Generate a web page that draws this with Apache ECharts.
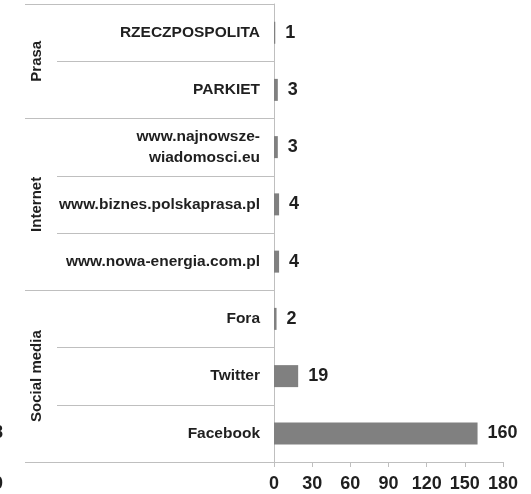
<!DOCTYPE html>
<html>
<head>
<meta charset="utf-8">
<script src="https://cdn.jsdelivr.net/npm/echarts@6/dist/echarts.min.js"></script>
<style>
  html, body { margin: 0; padding: 0; background: #fff; }
  #chart { width: 531px; height: 494px; }
</style>
</head>
<body>
<div id="chart"></div>
<script>
// kategorie (od góry) i liczba publikacji
var categories = ['RZECZPOSPOLITA', 'PARKIET', 'www.najnowsze-\nwiadomosci.eu', 'www.biznes.polskaprasa.pl',
                  'www.nowa-energia.com.pl', 'Fora', 'Twitter', 'Facebook'];
var values = [1, 3, 3, 4, 4, 2, 19, 160];
// grupy: nazwa, pozycja srodka (w wierszach), granice
var groupNames = ['Prasa', 'Internet', 'Social media'];
var groupCenters = [1, 3.5, 6.5];
var groupBounds = [0, 2, 5, 8];
var xTicks = [0, 30, 60, 90, 120, 150, 180];

var textColor = '#1f1f1f';
var lineColor = '#bfbfbf';

var chart = echarts.init(document.getElementById('chart'));
var option = {
    animation: false,
    grid: { left: 274, right: 28, top: 4, bottom: 32, containLabel: false },
    xAxis: {
        type: 'value',
        min: xTicks[0],
        max: xTicks[xTicks.length - 1],
        interval: 30,
        axisLine: { show: true, onZero: false, lineStyle: { color: lineColor } },
        axisTick: { show: true, length: 5, lineStyle: { color: lineColor } },
        splitLine: { show: false },
        axisLabel: { color: textColor, fontSize: 18, fontWeight: 'bold', fontFamily: 'Liberation Sans', margin: 13 }
    },
    yAxis: [{
        type: 'category',
        inverse: true,
        data: categories,
        axisLine: { show: true, lineStyle: { color: lineColor } },
        axisTick: { show: true, interval: 0, length: 217, lineStyle: { color: lineColor } },
        axisLabel: {
            interval: 0, margin: 14, color: textColor, fontSize: 15.5, fontWeight: 'bold',
            fontFamily: 'Liberation Sans', lineHeight: 21, align: 'right'
        }
    }, {
        // os grup (Prasa / Internet / Social media)
        type: 'value',
        min: 0,
        max: 8,
        inverse: true,
        position: 'left',
        axisLine: { show: false, onZero: false },
        splitLine: { show: false },
        axisTick: { show: true, customValues: groupBounds, length: 249, lineStyle: { color: lineColor } },
        axisLabel: {
            customValues: groupCenters,
            rotate: 90,
            margin: 230,
            color: textColor, fontSize: 15, fontWeight: 'bold', fontFamily: 'Liberation Sans',
            formatter: function (v) {
                var i = groupCenters.indexOf(v);
                return i >= 0 ? groupNames[i] : '';
            }
        }
    }],
    series: [{
        type: 'bar',
        yAxisIndex: 0,
        data: values,
        barWidth: 22,
        itemStyle: { color: '#808080' },
        label: {
            show: true, position: 'right', distance: 10,
            color: textColor, fontSize: 18, fontWeight: 'bold', fontFamily: 'Liberation Sans'
        }
    }],
    graphic: [
        // fragmenty sasiedniego wykresu uciete przy lewej krawedzi
        { type: 'text', left: -7, top: 424, style: { text: '8', fill: textColor, font: 'bold 18px "Liberation Sans"' } },
        { type: 'text', left: -7, top: 475, style: { text: '0', fill: textColor, font: 'bold 18px "Liberation Sans"' } }
    ]
};
chart.setOption(option);
</script>
</body>
</html>
